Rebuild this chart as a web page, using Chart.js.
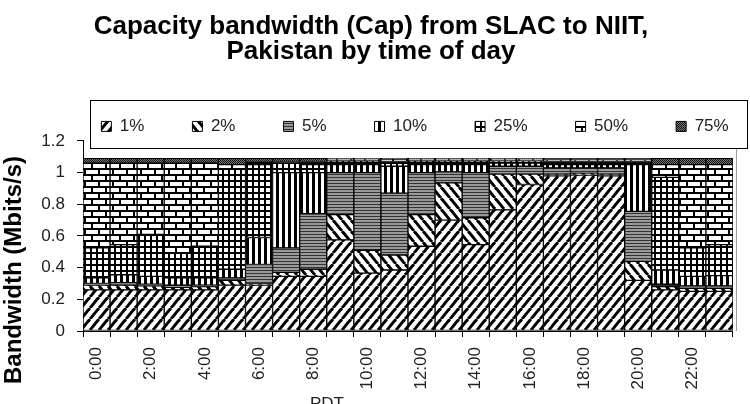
<!DOCTYPE html>
<html>
<head>
<meta charset="utf-8">
<script src="https://cdn.jsdelivr.net/npm/chart.js@4.4.0/dist/chart.umd.min.js"></script>
<style>
html, body { margin: 0; padding: 0; background: #fff; }
</style>
</head>
<body>
<canvas id="capChart" width="750" height="404"></canvas>
<script>
// Hours of day (PDT)
var hours = ['0:00', '1:00', '2:00', '3:00', '4:00', '5:00', '6:00', '7:00', '8:00', '9:00', '10:00', '11:00',
             '12:00', '13:00', '14:00', '15:00', '16:00', '17:00', '18:00', '19:00', '20:00', '21:00', '22:00', '23:00'];

// stacked pieces (Mbits/s), bottom to top
var pct1  = [0.26, 0.26, 0.26, 0.26, 0.26, 0.29, 0.29, 0.345, 0.345, 0.575, 0.365, 0.385, 0.535, 0.70, 0.545, 0.765, 0.925, 0.98, 0.985, 0.98, 0.32, 0.26, 0.25, 0.25];
var pct2  = [0.03, 0.03, 0.025, 0.015, 0.02, 0.03, 0.01, 0.025, 0.045, 0.16, 0.145, 0.095, 0.2, 0.235, 0.17, 0.225, 0.065, 0.01, 0.01, 0.01, 0.12, 0.02, 0.02, 0.02];
var pct5  = [0.01, 0.015, 0.01, 0.015, 0.01, 0.015, 0.12, 0.155, 0.35, 0.265, 0.49, 0.39, 0.265, 0.07, 0.285, 0.05, 0.05, 0.04, 0.035, 0.04, 0.315, 0.015, 0.015, 0.015];
var pct10 = [0.035, 0.05, 0.05, 0.045, 0.045, 0.055, 0.17, 0.475, 0.26, 0.05, 0.05, 0.17, 0.05, 0.045, 0.05, 0.02, 0.02, 0.02, 0.02, 0.02, 0.295, 0.09, 0.06, 0.065];
var pct25 = [0.19, 0.19, 0.265, 0.155, 0.2, 0.63, 0.46, 0.06, 0.05, 0.025, 0.025, 0.03, 0.025, 0.025, 0.025, 0.015, 0.015, 0.02, 0.02, 0.02, 0.02, 0.585, 0.18, 0.195];
var pct50 = [0.535, 0.515, 0.45, 0.57, 0.525, 0.03, 0.015, 0.01, 0.02, 0.01, 0.01, 0.015, 0.01, 0.01, 0.01, 0.01, 0.01, 0.01, 0.01, 0.01, 0.01, 0.08, 0.525, 0.505];
var pct75 = [0.03, 0.03, 0.03, 0.03, 0.03, 0.04, 0.025, 0.02, 0.02, 0.005, 0.005, 0.005, 0.005, 0.005, 0.005, 0.005, 0.005, 0.01, 0.01, 0.01, 0.01, 0.04, 0.04, 0.04];

var seriesNames = ['1%', '2%', '5%', '10%', '25%', '50%', '75%'];
var yTicks = [0, 0.2, 0.4, 0.6, 0.8, 1, 1.2];
var yTickLabels = ['0', '0.2', '0.4', '0.6', '0.8', '1', '1.2'];

var FONT = '"Liberation Sans", Arial, sans-serif';

// hatch fills, drawn on small tiles
function makePattern(w, h, draw) {
    var c = document.createElement('canvas');
    c.width = w;
    c.height = h;
    var g = c.getContext('2d');
    g.fillStyle = '#fff';
    g.fillRect(0, 0, w, h);
    g.fillStyle = '#000';
    g.strokeStyle = '#000';
    draw(g, w, h);
    return g.createPattern(c, 'repeat');
}

var fillUp = makePattern(9, 11, function (g, w, h) {
    g.lineWidth = 3;
    for (var k = -1; k <= 1; k++) {
        g.beginPath(); g.moveTo(k * w, h); g.lineTo(k * w + w, 0); g.stroke();
    }
});
var fillDown = makePattern(9, 11, function (g, w, h) {
    g.lineWidth = 3;
    for (var k = -1; k <= 1; k++) {
        g.beginPath(); g.moveTo(k * w, 0); g.lineTo(k * w + w, h); g.stroke();
    }
});
var fillHoriz = makePattern(4, 3, function (g, w, h) {
    g.fillStyle = '#9a9a9a'; g.fillRect(0, 0, w, h);
    g.fillStyle = '#333'; g.fillRect(0, 0, w, 1);
});
var fillVert = makePattern(6, 4, function (g, w, h) {
    g.fillRect(0, 0, 3, h);
});
var fillGrid = makePattern(6, 6, function (g, w, h) {
    g.fillRect(0, 0, w, 2);
    g.fillRect(0, 0, 2, h);
});
var fillBrick = makePattern(14, 12, function (g, w, h) {
    g.fillRect(0, 0, w, 2);
    g.fillRect(0, 6, w, 2);
    g.fillRect(0, 0, 2, 6);
    g.fillRect(7, 6, 2, 6);
});
var fillDots = makePattern(2, 2, function (g, w, h) {
    g.fillStyle = '#777'; g.fillRect(0, 0, w, h);
    g.fillStyle = '#111'; g.fillRect(0, 0, 1, 1); g.fillRect(1, 1, 1, 1);
});

var fills = [fillUp, fillDown, fillHoriz, fillVert, fillGrid, fillBrick, fillDots];
var values = [pct1, pct2, pct5, pct10, pct25, pct50, pct75];

var datasets = seriesNames.map(function (name, i) {
    return {
        label: name,
        data: values[i],
        backgroundColor: fills[i],
        borderColor: '#000',
        borderWidth: 1,
        borderSkipped: false
    };
});

// legend sits in a framed box that overlaps the top of the plot, like the original
var legendFrame = {
    id: 'legendFrame',
    afterInit: function (chart) {
        var lg = chart.legend;
        var fit = lg.fit;
        lg.fit = function () {
            fit.call(this);
            this.height = 71;
        };
    },
    afterLayout: function (chart) {
        chart.legend.left += 44;
        chart.legend.right += 44;
    },
    beforeDraw: function (chart) {
        var ctx = chart.ctx;
        ctx.save();
        ctx.fillStyle = '#fff';
        ctx.fillRect(0, 0, chart.width, chart.height);
        ctx.restore();
    },
    afterDraw: function (chart) {
        var ctx = chart.ctx;
        var area = chart.chartArea;
        ctx.save();
        ctx.strokeStyle = '#000';
        ctx.lineWidth = 1;
        ctx.strokeRect(90.5, 100.5, 657, 48);

        ctx.strokeStyle = '#999';
        ctx.beginPath();
        ctx.moveTo(area.right + 3.5, 149);
        ctx.lineTo(area.right + 3.5, area.bottom);
        ctx.stroke();

        ctx.fillStyle = '#000';
        ctx.font = 'bold 24px ' + FONT;
        ctx.textAlign = 'center';
        ctx.textBaseline = 'middle';
        ctx.translate(14, 270);
        ctx.rotate(-Math.PI / 2);
        ctx.fillText('Bandwidth (Mbits/s)', 0, 0);
        ctx.restore();

        ctx.save();
        ctx.fillStyle = '#222';
        ctx.font = '17px ' + FONT;
        ctx.textAlign = 'center';
        ctx.textBaseline = 'alphabetic';
        ctx.fillText('PDT', 327, 409);
        ctx.restore();
    }
};

var capCanvas = document.getElementById('capChart');
var capChart = new Chart(capCanvas, {
    type: 'bar',
    data: {
        labels: hours,
        datasets: datasets
    },
    options: {
        responsive: false,
        animation: false,
        layout: { padding: { left: 0, right: 8, top: 0, bottom: 0 } },
        datasets: {
            bar: { barPercentage: 1, categoryPercentage: 1 }
        },
        plugins: {
            title: {
                display: true,
                text: ['Capacity bandwidth (Cap) from SLAC to NIIT,', 'Pakistan by time of day'],
                color: '#000',
                font: { family: FONT, size: 26, weight: 'bold', lineHeight: 0.96 },
                padding: { top: 14, bottom: 6 }
            },
            legend: {
                display: true,
                position: 'top',
                labels: {
                    color: '#222',
                    font: { family: FONT, size: 17 },
                    boxWidth: 10,
                    boxHeight: 10,
                    padding: 48
                }
            },
            tooltip: { enabled: false }
        },
        scales: {
            x: {
                stacked: true,
                afterFit: function (s) { s.height = 73; },
                grid: { display: true, drawOnChartArea: false, tickLength: 6, color: '#000' },
                border: { color: '#000', width: 1 },
                ticks: {
                    autoSkip: false,
                    maxRotation: 90,
                    minRotation: 90,
                    padding: 10,
                    color: '#222',
                    font: { family: FONT, size: 17 },
                    callback: function (v, i) { return i % 2 === 0 ? hours[i] : ''; }
                }
            },
            y: {
                stacked: true,
                min: yTicks[0],
                max: yTicks[yTicks.length - 1],
                afterFit: function (s) { s.width = 83; },
                afterBuildTicks: function (s) {
                    s.ticks = yTicks.map(function (v) { return { value: v }; });
                },
                grid: { display: true, drawOnChartArea: false, tickLength: 6, color: '#000' },
                border: { color: '#000', width: 1 },
                ticks: {
                    padding: 12,
                    color: '#222',
                    font: { family: FONT, size: 17 },
                    callback: function (v, i) { return yTickLabels[i]; }
                }
            }
        }
    },
    plugins: [legendFrame]
});
</script>
</body>
</html>
